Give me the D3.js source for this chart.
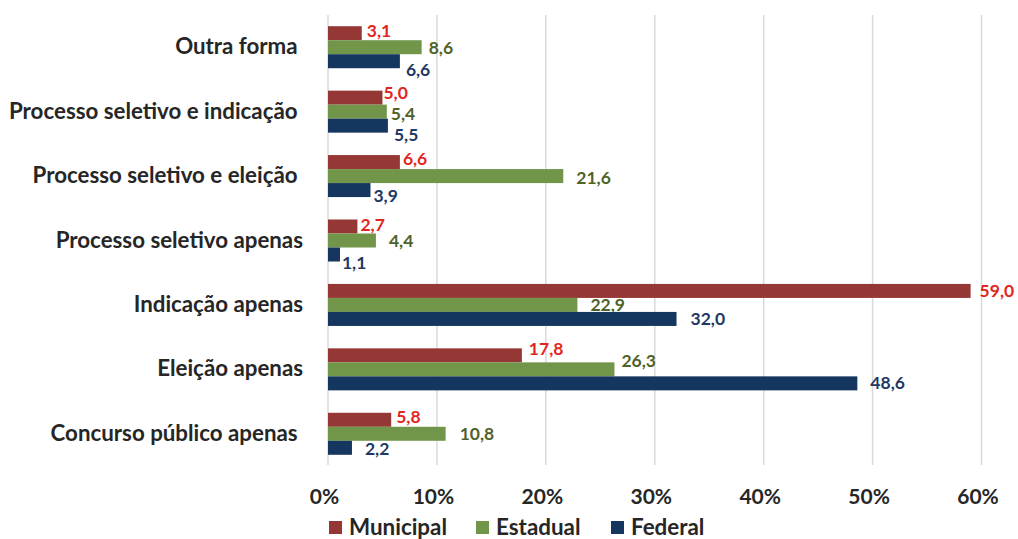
<!DOCTYPE html>
<html>
<head>
<meta charset="utf-8">
<script src="https://cdn.jsdelivr.net/npm/d3@7"></script>
<style>
  html, body { margin: 0; padding: 0; background: #ffffff; }
  svg { display: block; }
  text { font-family: Lato, "Open Sans", sans-serif; font-weight: 700; }
</style>
</head>
<body>
<svg id="chart" width="1018" height="539"></svg>
<script>
// Categories, top to bottom (some names carry a trailing space)
const categories = [
  "Outra forma ",
  "Processo seletivo e indicação ",
  "Processo seletivo e eleição ",
  "Processo seletivo apenas",
  "Indicação apenas",
  "Eleição apenas",
  "Concurso público apenas "
];
const seriesNames = ["Municipal", "Estadual", "Federal"];
const municipal = [3.1, 5.0, 6.6, 2.7, 59.0, 17.8, 5.8];
const estadual  = [8.6, 5.4, 21.6, 4.4, 22.9, 26.3, 10.8];
const federal   = [6.6, 5.5, 3.9, 1.1, 32.0, 48.6, 2.2];
const xTicks = [0, 10, 20, 30, 40, 50, 60];

// Label placement tweaks: gap after the bar end and vertical shift (px)
const labelGap = {
  Municipal: [5, 1, 3, 3, 9, 7, 5],
  Estadual:  [7, 4, 13, 13, 13, 7, 14],
  Federal:   [6, 6, 3, 2, 14, 13, 13]
};
const labelShift = {
  Municipal: [-2, -4.5, -3.5, -2, 0, -6, -3],
  Estadual:  [1, 2, 1.5, 0, 0, -8, 0],
  Federal:   [9, 9, 6, 8, 0, 0, 1]
};

const barColor = { Municipal: "#953735", Estadual: "#71964a", Federal: "#14365f" };
const textColor = { Municipal: "#e2261e", Estadual: "#4f6228", Federal: "#1f3864" };
const values = { Municipal: municipal, Estadual: estadual, Federal: federal };

const svg = d3.select("#chart");

const x = d3.scaleLinear().domain([0, 60]).range([328, 981.5]);
const y = d3.scaleBand().domain(categories).range([15, 466])
  .paddingInner(0.348).paddingOuter(0.174);
const ySub = d3.scaleBand().domain(seriesNames).range([0, y.bandwidth()]);

// Vertical gridlines
svg.append("g")
  .selectAll("line")
  .data(xTicks)
  .join("line")
  .attr("x1", d => x(d)).attr("x2", d => x(d))
  .attr("y1", 15).attr("y2", 465)
  .attr("stroke", "#d9d9d9")
  .attr("stroke-width", 1.5);

// X axis tick labels
const xAxis = d3.axisBottom(x).tickValues(xTicks).tickFormat(d => d + "%").tickSize(0).tickPadding(0);
const gx = svg.append("g").attr("transform", "translate(-4,497)").call(xAxis);
gx.select(".domain").remove();
gx.selectAll("text")
  .attr("dy", "0.35em")
  .attr("y", 0)
  .style("font-family", "Lato, sans-serif")
  .style("font-weight", "700")
  .style("font-size", "21px")
  .attr("fill", "#262626");

// Category labels
const yAxis = d3.axisLeft(y).tickSize(0).tickPadding(0);
const gy = svg.append("g").attr("transform", "translate(303,0)").call(yAxis);
gy.select(".domain").remove();
gy.selectAll("text")
  .style("font-family", "Lato, sans-serif")
  .style("font-weight", "700")
  .style("font-size", "22.3px")
  .style("white-space", "pre")
  .attr("fill", "#262626");

// Bars and value labels
const groups = svg.append("g")
  .selectAll("g")
  .data(categories)
  .join("g")
  .attr("transform", d => `translate(0,${y(d)})`);

groups.each(function(cat, i) {
  const g = d3.select(this);
  seriesNames.forEach(s => {
    const v = values[s][i];
    g.append("rect")
      .attr("x", x(0))
      .attr("y", ySub(s))
      .attr("width", x(v) - x(0))
      .attr("height", ySub.bandwidth())
      .attr("fill", barColor[s]);
    g.append("text")
      .attr("x", x(v) + labelGap[s][i])
      .attr("y", ySub(s) + ySub.bandwidth() / 2 + labelShift[s][i])
      .attr("dy", "0.35em")
      .attr("fill", textColor[s])
      .style("font-size", "17.5px")
      .text(d3.format(".1f")(v).replace(".", ","));
  });
});

// Legend
const legendPos = [329, 476, 611];
const legend = svg.append("g")
  .selectAll("g")
  .data(seriesNames)
  .join("g")
  .attr("transform", (d, i) => `translate(${legendPos[i]},521)`);
legend.append("rect")
  .attr("width", 13).attr("height", 13)
  .attr("fill", d => barColor[d]);
legend.append("text")
  .attr("x", 20).attr("y", 6.5).attr("dy", "0.35em")
  .attr("fill", "#262626")
  .style("font-size", "22.4px")
  .text(d => d);
</script>
</body>
</html>
